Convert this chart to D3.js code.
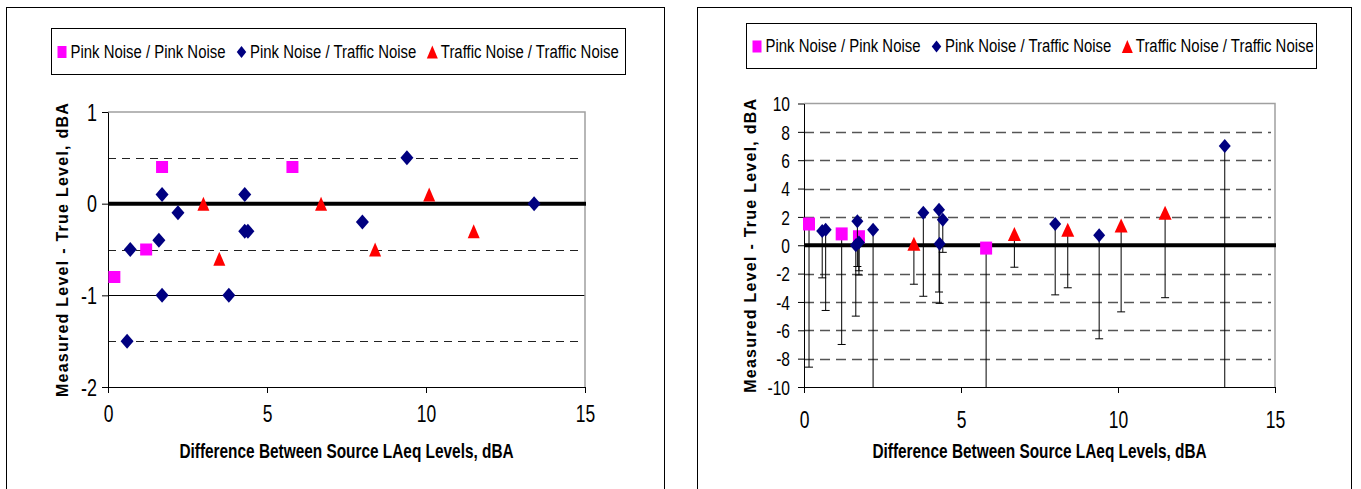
<!DOCTYPE html>
<html>
<head>
<meta charset="utf-8">
<script src="https://cdn.jsdelivr.net/npm/d3@7"></script>
<style>
  body { margin: 0; background: #fff; }
  text { font-family: "Liberation Sans", Arial, sans-serif; fill: #000; }
</style>
</head>
<body>
<div id="chart"></div>
<script>

// ---- data ----
let xTicks = [0, 5, 10, 15];
let seriesNames = ['Pink Noise / Pink Noise', 'Pink Noise / Traffic Noise', 'Traffic Noise / Traffic Noise'];
let xTitle = 'Difference Between Source LAeq Levels, dBA';
let yTitle = 'Measured Level - True Level, dBA';

// left chart
let leftYTicks = [-2, -1, 0, 1];
let leftDashed = [0.5, -0.5, -1.5];
let leftSolid = [-1];
let leftPinkPink = [
  {x: 0.2, y: -0.8}, {x: 1.2, y: -0.5}, {x: 1.7, y: 0.4}, {x: 5.8, y: 0.4}
];
let leftPinkTraffic = [
  {x: 0.7, y: -0.5}, {x: 0.6, y: -1.5}, {x: 1.7, y: 0.1}, {x: 1.6, y: -0.4},
  {x: 1.7, y: -1.0}, {x: 2.2, y: -0.1}, {x: 3.8, y: -1.0}, {x: 4.3, y: 0.1},
  {x: 4.3, y: -0.3}, {x: 4.4, y: -0.3}, {x: 8.0, y: -0.2}, {x: 9.4, y: 0.5},
  {x: 13.4, y: 0.0}
];
let leftTrafficTraffic = [
  {x: 3.0, y: 0.0}, {x: 3.5, y: -0.6}, {x: 6.7, y: 0.0}, {x: 8.4, y: -0.5},
  {x: 10.1, y: 0.1}, {x: 11.5, y: -0.3}
];

// right chart (low = end of the minus error bar)
let rightYTicks = [-10, -8, -6, -4, -2, 0, 2, 4, 6, 8, 10];
let rightDashed = [8, 6, 4, 2, -2, -4, -6, -8];
let rightPinkPink = [
  {x: 0.16, y: 1.5, low: -8.6}, {x: 1.2, y: 0.8, low: -7.0},
  {x: 1.75, y: 0.6, low: -1.8}, {x: 5.8, y: -0.2, low: -10}
];
let rightPinkTraffic = [
  {x: 0.58, y: 1.0, low: -2.3}, {x: 0.69, y: 1.1, low: -4.6},
  {x: 1.7, y: 1.7, low: -1.5}, {x: 1.65, y: 0.0, low: -5.0},
  {x: 1.75, y: 0.2, low: -2.1}, {x: 2.2, y: 1.1, low: -10},
  {x: 3.8, y: 2.3, low: -3.6}, {x: 4.3, y: 2.5, low: -3.3},
  {x: 4.42, y: 1.8, low: -0.5}, {x: 4.32, y: 0.1, low: -4.1},
  {x: 8.0, y: 1.5, low: -3.5}, {x: 9.4, y: 0.7, low: -6.6},
  {x: 13.4, y: 7.0, low: -10}
];
let rightTrafficTraffic = [
  {x: 3.5, y: 0.1, low: -2.75}, {x: 6.7, y: 0.8, low: -1.55},
  {x: 8.4, y: 1.1, low: -3.0}, {x: 10.1, y: 1.4, low: -4.7},
  {x: 11.5, y: 2.3, low: -3.7}
];

// ---- drawing ----
let width = 1361;
let height = 489;
let colors = ['#ff00ff', '#000080', '#ff0000'];

let svg = d3.select('#chart')
    .append('svg')
    .attr('width', width)
    .attr('height', height);

svg.append('rect').attr('width', width).attr('height', height).attr('fill', '#fff');

function shapePath(kind, w, h) {
  if (kind === 0) return `M${-w/2},${-h/2}h${w}v${h}h${-w}Z`;
  if (kind === 1) return `M0,${-h/2}L${w/2},0L0,${h/2}L${-w/2},0Z`;
  return `M0,${-h/2}L${w/2},${h/2}L${-w/2},${h/2}Z`;
}

// text squeezed horizontally like the narrow font of the original
function narrowText(g, x, y, str, size, sx, bold) {
  return g.append('g')
      .attr('transform', `translate(${x},${y}) scale(${sx},1)`)
      .append('text')
      .attr('font-size', size)
      .attr('font-weight', bold ? 'bold' : null)
      .text(str);
}

function drawPanel(cfg) {
  let g = svg.append('g');

  // outer frame
  g.append('rect')
      .attr('x', cfg.frame[0] + 0.5).attr('y', cfg.frame[1] + 0.5)
      .attr('width', cfg.frame[2]).attr('height', 520)
      .attr('fill', 'none').attr('stroke', '#000');

  // legend
  let lb = cfg.legendBox;
  g.append('rect')
      .attr('x', lb[0] + 0.5).attr('y', lb[1] + 0.5)
      .attr('width', lb[2]).attr('height', lb[3])
      .attr('fill', 'none').attr('stroke', '#000');
  let lx = lb[0] + 11;
  let ly = lb[1] + lb[3] / 2;
  seriesNames.forEach((name, i) => {
    let ms = [[9, 12], [9.5, 12], [11, 13]][i];
    g.append('path')
        .attr('d', shapePath(i, ms[0], ms[1]))
        .attr('transform', `translate(${lx},${ly + 1})`)
        .attr('fill', colors[i]);
    let t = narrowText(g, lx + 8.5, ly + 6.8, name, 19, 0.785, false);
    let tw = t.node().getComputedTextLength() * 0.785;
    lx = lx + 8.5 + tw + 16;
  });

  let x = d3.scaleLinear().domain([0, 15]).range([cfg.plot[0], cfg.plot[1]]);
  let y = d3.scaleLinear().domain(cfg.yDomain).range([cfg.plot[3], cfg.plot[2]]);

  // reference lines
  g.selectAll(null).data(cfg.dashed).join('line')
      .attr('x1', x(0)).attr('x2', x(15) - 4)
      .attr('y1', d => Math.round(y(d)) + 0.5).attr('y2', d => Math.round(y(d)) + 0.5)
      .attr('stroke', cfg.dashColor).attr('stroke-width', cfg.dashWidth)
      .attr('stroke-dasharray', cfg.dashArray);
  g.selectAll(null).data(cfg.solid).join('line')
      .attr('x1', x(0)).attr('x2', x(15))
      .attr('y1', d => Math.round(y(d)) + 0.5).attr('y2', d => Math.round(y(d)) + 0.5)
      .attr('stroke', '#000').attr('stroke-width', 1);

  // plot border top/right
  g.append('path')
      .attr('d', `M${x(0)},${y(cfg.yDomain[1])}H${x(15)}V${y(cfg.yDomain[0])}`)
      .attr('fill', 'none').attr('stroke', '#a0a0a0').attr('stroke-width', 1.5);

  // axes
  let yAxis = g.append('g')
      .attr('transform', `translate(${x(0)},0)`)
      .call(d3.axisLeft(y).tickValues(cfg.yTicks).tickSize(6).tickSizeOuter(0).tickFormat(d => String(d)));
  yAxis.selectAll('text')
      .attr('font-size', cfg.yTickSize)
      .attr('font-family', '"Liberation Sans", Arial, sans-serif')
      .attr('transform', 'scale(0.78,1)')
      .attr('x', -cfg.yTickGap / 0.78)
      .attr('dy', '0.36em');

  let xAxis = g.append('g')
      .attr('transform', `translate(0,${y(cfg.yDomain[0])})`)
      .call(d3.axisBottom(x).tickValues(xTicks).tickSize(6).tickSizeOuter(0));
  xAxis.selectAll('text')
      .attr('font-size', 23)
      .attr('font-family', '"Liberation Sans", Arial, sans-serif')
      .attr('y', cfg.xTickBase)
      .attr('dy', 0)
      .attr('transform', 'scale(0.76,1)');
  g.selectAll('.domain').attr('stroke', '#000');
  g.selectAll('.tick line').attr('stroke', '#000');

  // zero line
  g.append('line')
      .attr('x1', x(0)).attr('x2', x(15) + 1)
      .attr('y1', y(0)).attr('y2', y(0))
      .attr('stroke', '#000').attr('stroke-width', 4);

  // titles
  narrowText(g, (x(0) + x(15)) / 2, cfg.xTitleBase, xTitle, 20, 0.77, true)
      .attr('text-anchor', 'middle');
  g.append('g')
      .attr('transform', `translate(${cfg.yTitleX},${(y(cfg.yDomain[0]) + y(cfg.yDomain[1])) / 2}) rotate(-90)`)
      .append('text')
      .attr('font-size', 16)
      .attr('font-weight', 'bold')
      .attr('letter-spacing', 1.25)
      .attr('text-anchor', 'middle')
      .attr('dy', '0.36em')
      .text(yTitle);

  // series
  let bottom = cfg.yDomain[0];
  cfg.series.forEach((data, i) => {
    if (cfg.errorBars) {
      g.selectAll(null).data(data).join('line')
          .attr('x1', d => x(d.x)).attr('x2', d => x(d.x))
          .attr('y1', d => y(d.y)).attr('y2', d => y(Math.max(d.low, bottom)))
          .attr('stroke', '#000').attr('stroke-width', 1);
      g.selectAll(null).data(data.filter(d => d.low > bottom)).join('line')
          .attr('x1', d => x(d.x) - 4).attr('x2', d => x(d.x) + 4)
          .attr('y1', d => y(d.low)).attr('y2', d => y(d.low))
          .attr('stroke', '#000').attr('stroke-width', 1);
    }
    let ms = cfg.markerSizes[i];
    g.selectAll(null).data(data).join('path')
        .attr('d', shapePath(i, ms[0], ms[1]))
        .attr('transform', d => `translate(${x(d.x)},${y(d.y)})`)
        .attr('fill', colors[i]);
  });
}

drawPanel({
  frame: [6, 7, 658],
  legendBox: [51, 28, 574, 46],
  plot: [108, 585, 112, 387],
  yDomain: [-2, 1],
  yTicks: leftYTicks,
  yTickSize: 23,
  yTickGap: 11,
  dashed: leftDashed,
  solid: leftSolid,
  dashColor: '#222',
  dashWidth: 1,
  dashArray: '8,6',
  xTickBase: 35,
  xTitleBase: 458,
  yTitleX: 62,
  errorBars: false,
  markerSizes: [[12, 12], [13, 15], [12, 14]],
  series: [leftPinkPink, leftPinkTraffic, leftTrafficTraffic]
});

drawPanel({
  frame: [697, 7, 654],
  legendBox: [746, 23, 570, 45],
  plot: [804, 1275, 103.5, 387],
  yDomain: [-10, 10],
  yTicks: rightYTicks,
  yTickSize: 20,
  yTickGap: 14,
  dashed: rightDashed,
  solid: [],
  dashColor: '#555',
  dashWidth: 1.4,
  dashArray: '10,6',
  xTickBase: 41,
  xTitleBase: 458,
  yTitleX: 750,
  errorBars: true,
  markerSizes: [[12, 13], [12, 14], [13, 14]],
  series: [rightPinkPink, rightPinkTraffic, rightTrafficTraffic]
});

</script>
</body>
</html>
